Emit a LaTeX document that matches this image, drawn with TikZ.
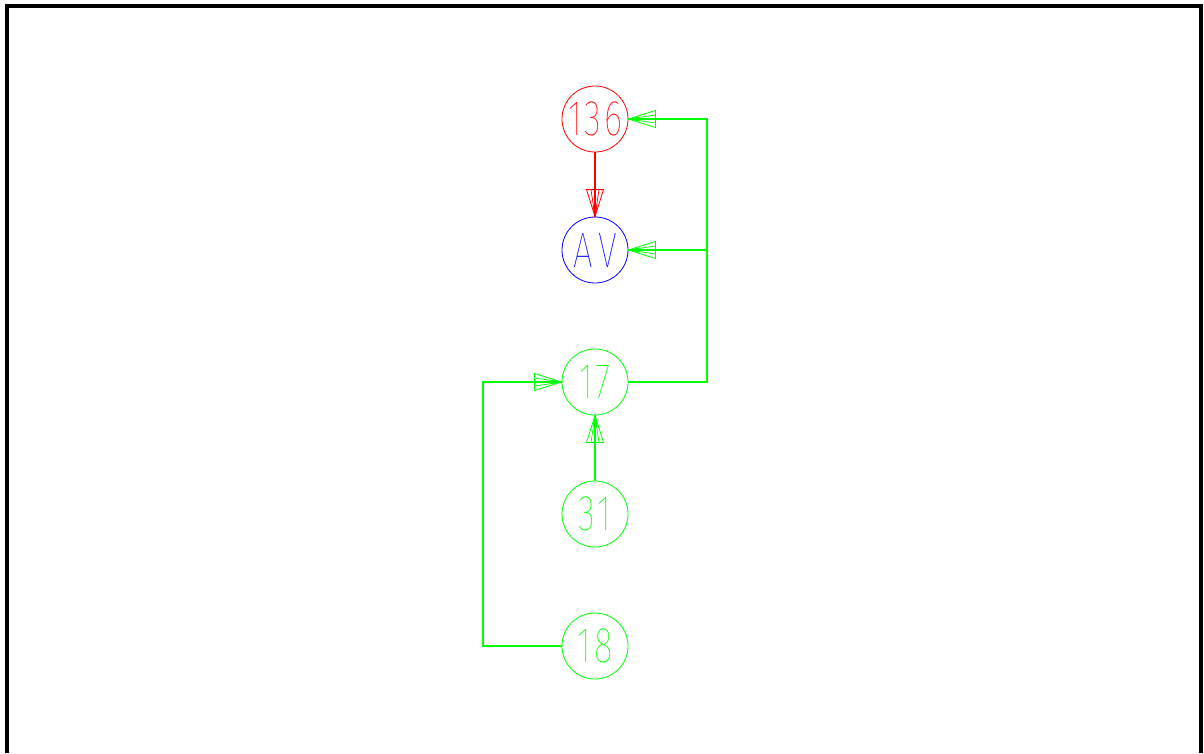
\documentclass[tikz,border=0pt]{standalone}
\usepackage{fontspec}
\setmainfont{Fira Sans Thin}[LetterSpace=8]
\usetikzlibrary{decorations.markings}
\definecolor{cadred}{RGB}{255,0,0}
\definecolor{cadblue}{RGB}{0,0,255}
\definecolor{cadgreen}{RGB}{0,255,0}
\tikzset{
  vnode/.style={circle, draw, minimum size=66pt, inner sep=0pt, line width=0.8pt,
    font=\fontsize{50}{50}\selectfont},
  conn/.style={line width=1.1pt},
  fanarrow/.style={postaction={decorate}, decoration={markings, mark=at position 1 with {
     \draw[line width=0.8pt] (0pt,0pt) -- (-27pt,8.5pt) -- (-27pt,-8.5pt) -- cycle;
     \draw[line width=0.7pt] (0pt,0pt) -- (-27pt,4pt) (0pt,0pt) -- (-27pt,-4pt);
     \fill (0pt,0pt) -- (-11pt,2.5pt) -- (-11pt,-2.5pt) -- cycle;
  }}}
}
\newcommand{\nlabel}[1]{\scalebox{0.7}[1]{#1}}
\begin{document}
\begin{tikzpicture}[x=1pt,y=-1pt]
\useasboundingbox (0,0) rectangle (1204,753);
\draw[line width=3.2pt, black] (7,753) -- (7,6) -- (1201,6) -- (1201,753);
\node[vnode, cadred] (n136) at (595,119) {\nlabel{136}};
\node[vnode, cadblue] (nAV) at (595,250) {\nlabel{A\hspace{8pt}V}};
\node[vnode, cadgreen] (n17) at (595,382) {\nlabel{17}};
\node[vnode, cadgreen] (n31) at (595,514) {\nlabel{31}};
\node[vnode, cadgreen] (n18) at (595,646) {\nlabel{18}};
\coordinate (j1) at (707,382);
\coordinate (j2) at (483,646);
\draw[conn, cadred, fanarrow] (n136.south) -- (nAV.north);
\draw[conn, cadgreen, fanarrow] (n17.east) -- (j1) |- (n136.east);
\draw[conn, cadgreen, fanarrow] (j1 |- nAV.east) -- (nAV.east);
\draw[conn, cadgreen, fanarrow] (n31.north) -- (n17.south);
\draw[conn, cadgreen, fanarrow] (n18.west) -- (j2) |- (n17.west);
\end{tikzpicture}
\end{document}
